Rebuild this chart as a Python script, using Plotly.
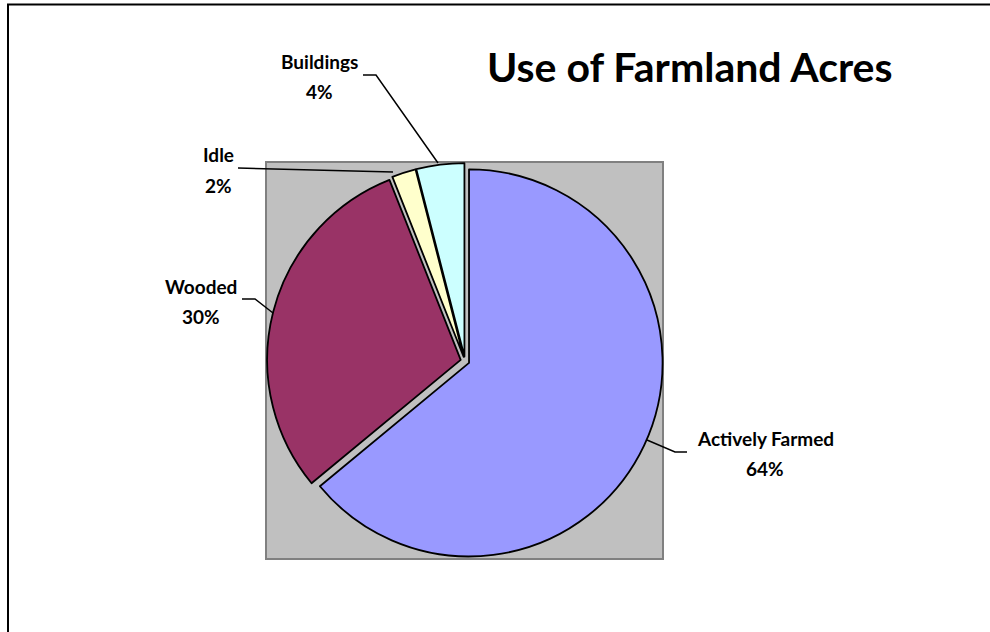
import plotly.graph_objects as go

# Farmland use shares (percent of acres)
categories = ["Actively Farmed", "Wooded", "Idle", "Buildings"]
shares = [64, 30, 2, 4]
slice_colors = ["#9999FF", "#993366", "#FFFFCC", "#CCFFFF"]

W, H = 990, 632
FONT = "Lato, 'Open Sans', sans-serif"


def px(x):
    return x / W


def py(y):
    return 1 - y / H


# pie box (paper fractions) – also used for the grey plot area behind it
dom_x = [px(267), px(663)]
dom_y = [py(559), py(163)]

fig = go.Figure(
    go.Pie(
        labels=categories,
        values=shares,
        sort=False,
        direction="clockwise",
        rotation=0,
        pull=[0.023] * len(shares),
        marker=dict(colors=slice_colors, line=dict(color="black", width=1.8)),
        textinfo="none",
        hoverinfo="label+percent",
        domain=dict(x=dom_x, y=dom_y),
        showlegend=False,
    )
)

shapes = [
    # grey plot area
    dict(type="rect", xref="paper", yref="paper",
         x0=px(266), x1=px(663), y0=py(559), y1=py(162),
         fillcolor="#C0C0C0", line=dict(color="#808080", width=2), layer="below"),
    # chart frame
    dict(type="rect", xref="paper", yref="paper",
         x0=px(8), x1=px(1000), y0=py(645), y1=py(4.5),
         fillcolor="rgba(0,0,0,0)", line=dict(color="black", width=2)),
]

# label anchors (centre of name line) and leader line points, in pixels
label_pos = {
    "Actively Farmed": (765, 438.5),
    "Wooded": (201, 286),
    "Idle": (218, 155),
    "Buildings": (319.5, 61.5),
}
leaders = {
    "Actively Farmed": [(687, 452), (675, 452), (647, 440)],
    "Wooded": [(242, 299), (255, 299), (273, 313)],
    "Idle": [(238, 168), (393, 172)],
    "Buildings": [(363, 75), (376, 75), (438, 163)],
}

for pts in leaders.values():
    path = "M " + " L ".join(f"{px(x)},{py(y)}" for x, y in pts)
    shapes.append(dict(type="path", xref="paper", yref="paper", path=path,
                       line=dict(color="black", width=1.5)))

total = sum(shares)
annotations = []
for name, val in zip(categories, shares):
    x, y = label_pos[name]
    pct = f"{val / total * 100:.0f}%"
    for txt, yy in ((name, y), (pct, y + 30)):
        annotations.append(dict(
            text=f"<b>{txt}</b>", x=px(x), y=py(yy), xref="paper", yref="paper",
            showarrow=False, xanchor="center", yanchor="middle",
            font=dict(family=FONT, size=19, color="black"),
        ))

annotations.append(dict(
    text="<b>Use of Farmland Acres</b>", x=px(690), y=py(66),
    xref="paper", yref="paper", showarrow=False,
    xanchor="center", yanchor="middle",
    font=dict(family=FONT, size=41, color="black"),
))

fig.update_layout(
    width=W, height=H,
    margin=dict(l=0, r=0, t=0, b=0),
    paper_bgcolor="white",
    plot_bgcolor="white",
    shapes=shapes,
    annotations=annotations,
)

fig.write_html("out.html")
